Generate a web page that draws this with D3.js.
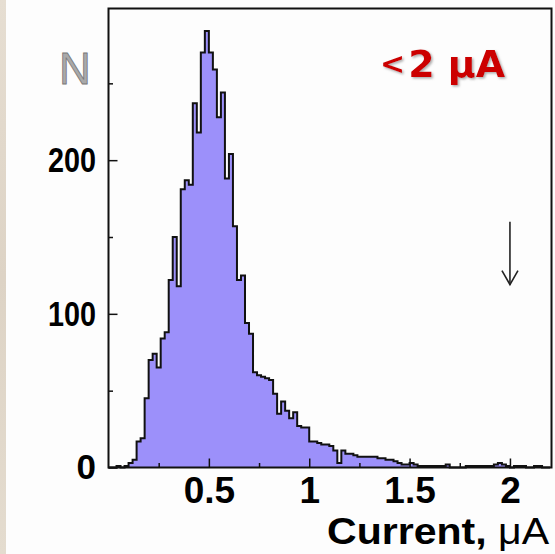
<!DOCTYPE html>
<html><head><meta charset="utf-8">
<script src="https://cdn.jsdelivr.net/npm/d3@7/dist/d3.min.js"></script>
<style>body{margin:0;background:#fff;overflow:hidden}</style>
</head><body>
<svg id="c" width="555" height="554"></svg>
<script>
// ---- data ----
const binWidth = 0.02;          // µA per bin
const xMax = 2.2;               // last bin edge
const counts = [
  0,0,1,0,1,3,5,17,19,45,
  70,74,65,84,88,122,150,118,181,187,
  184,237,218,270,284,270,259,228,244,188,
  204,157,122,125,94,87,62,60,59,58,
  57,48,35,43,37,32,36,27,26,26,
  17,17,16,15,15,14,11,3,11,9,
  9,8,7,7,7,7,7,6,6,5,
  5,4,3,2,2,3,2,1,1,1,
  1,1,1,1,2,0,0,0,0,1,
  1,1,1,1,1,1,2,3,2,1,
  0,1,1,1,0,0,1,1,0,0
];
const xMajorTicks = [0.5, 1, 1.5, 2];
const xMinorTicks = [0.25, 0.75, 1.25, 1.75];
const xTickLabels = ["0.5", "1", "1.5", "2"];
const yMajorTicks = [0, 100, 200];
const yMinorTicks = [50, 150, 250];
const yTickLabels = ["0", "100", "200"];
const xTitle = "Current, ";
const xTitleUnit = "\u03bcA";
const yTitle = "N";
const cutPrefix = "<";
const cutValue = "2 \u03bcA";
const arrowX = 2.0;
const arrowFrom = 160, arrowTo = 119;

// ---- layout ----
const svg = d3.select("#c");
const L = 108.5, R = 551.5, T = 8.5, B = 467.5;
const x = d3.scaleLinear().domain([0, 2.207]).range([L, R]);
const y = d3.scaleLinear().domain([0, 298.7]).range([B, T]);

svg.append("rect").attr("width", 555).attr("height", 554).attr("fill", "#fdfdfd");
const defs = svg.append("defs");
const grad = defs.append("linearGradient").attr("id","strip").attr("x1",0).attr("x2",0).attr("y1",0).attr("y2",1);
grad.append("stop").attr("offset",0).attr("stop-color","#e6ded2");
grad.append("stop").attr("offset",0.5).attr("stop-color","#ddd3c5");
grad.append("stop").attr("offset",1).attr("stop-color","#e4dccf");
svg.append("rect").attr("x",0).attr("y",0).attr("width",6).attr("height",554).attr("fill","url(#strip)");

const f = defs.append("filter").attr("id","sh").attr("x","-10%").attr("y","-10%").attr("width","130%").attr("height","140%");
f.append("feDropShadow").attr("dx",1.5).attr("dy",1.5).attr("stdDeviation",0.8).attr("flood-color","#888").attr("flood-opacity",0.7);

// histogram
const pts = counts.map((n, i) => [i * binWidth, n]);
pts.push([xMax, counts[counts.length - 1]]);
const area = d3.area().x(d => x(d[0])).y0(y(0)).y1(d => y(d[1])).curve(d3.curveStepAfter);
svg.append("path").attr("d", area(pts)).attr("fill", "#9c90fa");
const outline = [[0, 0]].concat(pts, [[xMax, 0]]);
const line = d3.line().x(d => x(d[0])).y(d => y(d[1])).curve(d3.curveStepAfter);
svg.append("path").attr("d", line(outline)).attr("fill", "none")
  .attr("stroke", "#111").attr("stroke-width", 2).attr("stroke-linejoin", "miter");

// axes
const font = "'Liberation Sans', Arial, Helvetica, sans-serif";
svg.append("g").attr("class","xax").attr("transform", `translate(0,${B})`)
  .call(d3.axisBottom(x).tickValues(xMajorTicks).tickSize(-9).tickSizeOuter(0).tickPadding(9)
    .tickFormat((d, i) => xTickLabels[i]));
svg.append("g").attr("transform", `translate(0,${B})`)
  .call(d3.axisBottom(x).tickValues(xMinorTicks).tickSize(-4.5).tickSizeOuter(0).tickFormat(""));
svg.append("g").attr("class","yax").attr("transform", `translate(${L},0)`)
  .call(d3.axisLeft(y).tickValues(yMajorTicks).tickSize(-9).tickSizeOuter(0).tickPadding(12.5)
    .tickFormat((d, i) => yTickLabels[i]));
svg.append("g").attr("transform", `translate(${L},0)`)
  .call(d3.axisLeft(y).tickValues(yMinorTicks).tickSize(-4.5).tickSizeOuter(0).tickFormat(""));
svg.selectAll(".domain").remove();
svg.selectAll(".tick line").attr("stroke", "#111").attr("stroke-width", 1.5);
svg.selectAll(".tick text").attr("font-family", font).attr("font-weight", "bold").attr("fill", "#000");
svg.selectAll(".xax .tick text").attr("font-size", 37);
svg.selectAll(".yax .tick text").attr("font-size", 35)
  .each(function(d, i) {
    const s = yTickLabels[i];
    if (s.length === 3) d3.select(this).attr("textLength", 48).attr("lengthAdjust", "spacingAndGlyphs");
  });

// frame
svg.append("rect").attr("x", L).attr("y", T).attr("width", R - L).attr("height", B - T)
  .attr("fill", "none").attr("stroke", "#111").attr("stroke-width", 2);

// titles
const xt = svg.append("text").attr("x", 549).attr("y", 544).attr("text-anchor", "end")
  .attr("font-family", font).attr("font-weight", "bold").attr("font-size", 37).attr("fill", "#000")
  .attr("textLength", 222).attr("lengthAdjust", "spacingAndGlyphs");
xt.append("tspan").text(xTitle);
xt.append("tspan").attr("font-weight", "normal").text(xTitleUnit);

svg.append("text").attr("x", 59).attr("y", 84).attr("font-family", font).attr("font-size", 44)
  .attr("fill", "#a9a9a9").attr("stroke", "#777").attr("stroke-width", 0.8).text(yTitle);

const cut = svg.append("text").attr("x", 380).attr("y", 77)
  .attr("font-family", "'Comic Sans MS', 'DejaVu Sans', sans-serif").attr("font-weight", "bold")
  .attr("fill", "#cc0000").attr("filter", "url(#sh)");
cut.append("tspan").attr("font-size", 30).attr("dy", -3).text(cutPrefix);
cut.append("tspan").attr("font-size", 38).attr("dx", 3).attr("dy", 3).text(cutValue);

// arrow
const ax = x(arrowX);
svg.append("line").attr("x1", ax).attr("x2", ax).attr("y1", y(arrowFrom)).attr("y2", y(arrowTo))
  .attr("stroke", "#222").attr("stroke-width", 1.6);
svg.append("path").attr("d", `M${ax - 8},${y(arrowTo) - 14} L${ax},${y(arrowTo)} L${ax + 8},${y(arrowTo) - 14}`)
  .attr("fill", "none").attr("stroke", "#222").attr("stroke-width", 1.6);
</script>
</body></html>
